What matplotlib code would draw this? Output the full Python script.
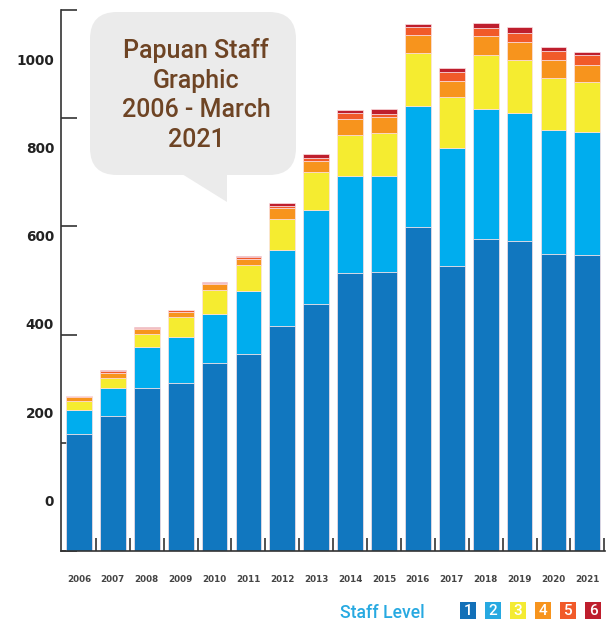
import numpy as np
import matplotlib
matplotlib.use("Agg")
import matplotlib.pyplot as plt
from matplotlib.patches import FancyBboxPatch, Polygon, Rectangle

years = [str(y) for y in range(2006, 2022)]

# staff counts per level
level1 = [216, 250, 301, 311, 347, 364, 416, 456, 513, 516, 599, 527, 577, 573, 549, 547]
level2 = [44, 51, 77, 84, 92, 117, 140, 175, 181, 178, 224, 217, 240, 236, 230, 227]
level3 = [17, 18, 23, 37, 44, 47, 58, 69, 75, 79, 98, 95, 99, 99, 96, 92]
level4 = [7, 10, 10, 10, 11, 12, 20, 20, 30, 30, 33, 30, 36, 33, 32, 33]
level5 = [2, 3, 2, 3, 2, 4, 4, 6, 10, 5, 14, 17, 14, 16, 17, 17]
level6 = [1, 2, 1, 1, 1, 1, 6, 7, 7, 9, 6, 7, 10, 11, 7, 6]

levels = [level1, level2, level3, level4, level5, level6]
level_names = ["1", "2", "3", "4", "5", "6"]
bar_colors = ["#1177bf", "#00adee", "#f5ec30", "#f7941d", "#f15a29", "#be1e2d"]
key_colors = ["#1270b8", "#27a9e1", "#f4eb32", "#f7941d", "#f15a29", "#be1e2d"]

ytick_labels = ["0", "200", "400", "600", "800", "1000"]

W, H = 613, 622
fig = plt.figure(figsize=(W / 100, H / 100), dpi=100)
ax = fig.add_axes([61 / W, (H - 551) / H, (605 - 61) / W, 541 / H])
ax.set_facecolor("none")

x = np.arange(len(years))
bottom = np.zeros(len(years))
for vals, col in zip(levels, bar_colors):
    ax.bar(x, vals, width=0.76, bottom=bottom, color=col,
           edgecolor="#fbe0e4", linewidth=0.5, zorder=2)
    bottom += np.array(vals)

ax.set_xlim(-0.53, 15.52)
ax.set_ylim(0, 1000)

for s in ["top", "right"]:
    ax.spines[s].set_visible(False)
for s in ["left", "bottom"]:
    ax.spines[s].set_color("#333333")
    ax.spines[s].set_linewidth(1.2)

# tick marks: y every 200, x between the bars
ax.set_yticks(np.arange(0, 1001, 200))
ax.set_yticklabels([])
ax.set_xticks(x + 0.5)
ax.set_xticklabels([])
ax.tick_params(axis="y", which="major", direction="in", length=11.5, width=1.2, color="#333333")
ax.tick_params(axis="x", which="major", direction="in", length=9.5, width=1.2, color="#333333")

# labels sit on minor ticks (the picture puts them off the tick marks)
ax.set_yticks(np.linspace(94, 908, 6), minor=True)
ax.set_yticklabels(ytick_labels, minor=True, fontsize=9.8, fontweight="bold",
                   family="DejaVu Sans", color="#222222")
ax.set_xticks(x, minor=True)
ax.set_xticklabels(years, minor=True, fontsize=6.3, fontweight="bold",
                   family="DejaVu Sans", color="#444444")
ax.tick_params(axis="y", which="minor", length=0, pad=5)
ax.tick_params(axis="x", which="minor", length=0, pad=17)

# overlay in pixel units for the bubble and the key
ov = fig.add_axes([0, 0, 1, 1], zorder=5)
ov.set_xlim(0, W)
ov.set_ylim(H, 0)
ov.axis("off")
ov.set_facecolor("none")

bubble = FancyBboxPatch((90, 12), 206, 163, boxstyle="round,pad=0,rounding_size=27",
                        facecolor="#ebebeb", edgecolor="none")
ov.add_patch(bubble)
ov.add_patch(Polygon([(182, 174), (227, 174), (227, 202)], closed=True,
                     facecolor="#ebebeb", edgecolor="none"))
ov.text(196, 95, "Papuan Staff\nGraphic\n2006 - March\n2021", ha="center", va="center",
        fontsize=18, family="Roboto", fontweight="medium", color="#6e4424",
        linespacing=1.3)

ov.text(340, 618, "Staff Level", ha="left", va="baseline", fontsize=12.7,
        family="Roboto", fontweight="medium", color="#27a9e1")
for i, (name, col) in enumerate(zip(level_names, key_colors)):
    x0 = 460 + 25 * i
    ov.add_patch(Rectangle((x0, 602), 16, 17, facecolor=col, edgecolor="none"))
    ov.text(x0 + 8, 611, name, ha="center", va="center", fontsize=11,
            family="Roboto", fontweight="medium", color="white")

fig.savefig("out.png", dpi=100)
